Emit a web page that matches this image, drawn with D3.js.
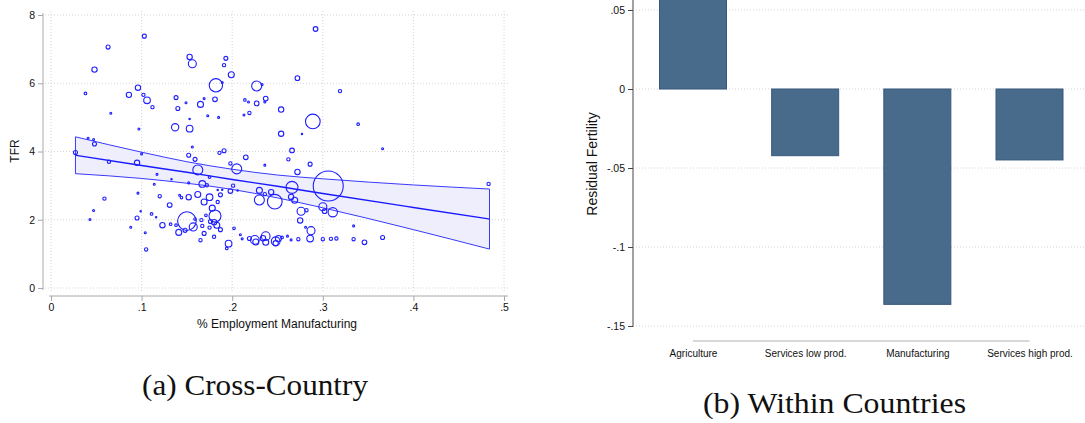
<!DOCTYPE html>
<html><head><meta charset="utf-8">
<script src="https://cdn.jsdelivr.net/npm/d3@7"></script>
<style>body{margin:0;background:#fff}svg{display:block}</style>
</head><body><svg id="chart" width="1085" height="423"></svg>
<script>
// ---------- Panel (a): cross-country scatter ----------
const mfgShare = [0.103,0.063,0.048,0.153,0.156,0.193,0.191,0.199,0.182,0.189,0.227,0.233,0.038,0.096,0.086,0.102,0.106,0.112,0.138,0.149,0.140,0.165,0.169,0.181,0.173,0.185,0.214,0.218,0.227,0.219,0.213,0.066,0.097,0.137,0.153,0.153,0.156,0.041,0.047,0.048,0.027,0.064,0.100,0.095,0.117,0.133,0.152,0.159,0.162,0.186,0.191,0.215,0.198,0.205,0.175,0.152,0.167,0.172,0.201,0.198,0.114,0.096,0.120,0.142,0.144,0.152,0.162,0.175,0.169,0.187,0.184,0.230,0.230,0.059,0.131,0.047,0.099,0.043,0.095,0.111,0.123,0.132,0.138,0.150,0.141,0.148,0.157,0.159,0.167,0.171,0.178,0.181,0.176,0.180,0.183,0.175,0.187,0.169,0.165,0.180,0.196,0.194,0.202,0.209,0.211,0.219,0.225,0.105,0.088,0.104,0.166,0.116,0.226,0.234,0.237,0.237,0.248,0.251,0.255,0.248,0.261,0.265,0.273,0.281,0.287,0.286,0.300,0.309,0.315,0.334,0.334,0.346,0.366,0.292,0.272,0.319,0.237,0.236,0.254,0.289,0.339,0.277,0.254,0.266,0.262,0.286,0.236,0.272,0.306,0.266,0.236,0.243,0.247,0.265,0.269,0.300,0.302,0.311,0.276,0.282,0.275,0.366,0.483,0.184,0.189,0.206];
const tfr = [7.38,7.06,6.40,6.77,6.57,6.73,6.53,6.25,5.94,6.02,5.92,5.96,5.70,5.87,5.66,5.66,5.50,5.30,5.58,5.43,5.26,5.38,5.55,5.53,5.05,5.00,5.51,5.45,5.41,5.13,5.07,5.12,4.66,4.71,4.67,4.95,4.13,4.39,4.35,4.22,3.97,3.70,3.93,3.67,3.33,3.19,3.89,3.77,3.46,3.96,4.02,3.83,3.65,3.49,3.25,3.08,3.05,3.01,3.00,2.84,3.04,2.78,2.69,2.72,2.65,2.66,2.74,2.66,2.52,2.73,2.52,2.86,2.58,2.62,2.43,2.27,2.25,2.01,2.05,2.17,1.84,1.87,1.84,1.96,1.63,1.69,1.79,2.02,1.82,2.13,2.34,2.11,1.95,1.93,1.84,1.77,1.71,1.60,1.40,1.50,1.30,1.16,1.75,1.56,1.44,1.45,1.41,1.13,1.78,1.62,1.99,2.07,1.35,1.46,1.52,1.34,1.37,1.45,1.48,1.31,1.52,1.41,1.43,1.78,1.68,1.45,1.43,1.44,1.45,1.82,1.43,1.34,1.48,7.59,6.15,5.77,5.55,5.45,5.23,4.88,4.80,4.51,4.52,4.03,3.77,3.63,3.60,3.40,2.99,2.95,2.75,2.81,2.53,2.67,2.57,2.38,2.25,2.22,2.25,2.28,1.98,4.08,3.05,2.87,2.88,2.86];
const population = [25,25,44,44,100,25,17,56,276,6,155,6,11,44,44,17,69,17,25,6,25,56,6,34,6,6,11,6,34,17,6,6,6,83,69,3,6,6,6,25,25,17,6,44,6,3,25,25,155,17,25,34,17,155,11,6,69,17,17,34,6,6,17,6,11,44,56,69,56,25,17,56,155,17,34,6,3,6,25,11,44,11,11,540,56,25,100,11,17,11,56,224,25,44,56,17,25,25,17,17,69,11,11,6,6,25,117,17,6,6,17,3,56,44,117,56,117,56,11,44,6,6,17,6,100,69,17,17,17,6,17,34,25,34,34,17,34,6,44,334,11,3,44,34,17,25,6,44,1400,224,17,44,334,44,56,100,34,135,100,17,44,6,17,3,3,3];

// linear fit with 95% CI
const fitX  = [0.027, 0.10, 0.15, 0.20, 0.25, 0.30, 0.40, 0.484];
const fitY  = [3.89, 3.59, 3.39, 3.18, 2.98, 2.77, 2.36, 2.02];
const ciHi  = [4.43, 3.98, 3.70, 3.48, 3.31, 3.20, 3.02, 2.90];
const ciLo  = [3.35, 3.21, 3.07, 2.89, 2.64, 2.35, 1.71, 1.14];

const xTicksA = [0, 0.1, 0.2, 0.3, 0.4, 0.5];
const xTickLabelsA = ["0", ".1", ".2", ".3", ".4", ".5"];
const yTicksA = [0, 2, 4, 6, 8];
const yTickLabelsA = ["0", "2", "4", "6", "8"];

// ---------- Panel (b): within countries bars ----------
const sectors = ["Agriculture", "Services low prod.", "Manufacturing", "Services high prod."];
const residualFertility = [0.07, -0.0422, -0.1363, -0.0449];
const yTicksB = [0.05, 0, -0.05, -0.1, -0.15];
const yTickLabelsB = [".05", "0", "-.05", "-.1", "-.15"];

const svg = d3.select("#chart");
const SANS = "'Liberation Sans', Arial, Helvetica, sans-serif";
const SERIF = "'Liberation Serif', 'Times New Roman', serif";

// ===== Panel A =====
const xA = d3.scaleLinear().domain([0, 0.5]).range([51, 504]);
const yA = d3.scaleLinear().domain([0, 8]).range([288, 15]);
const rA = d3.scaleSqrt().domain([0, 1400]).range([0, 15]);
const gA = svg.append("g");

// grid
gA.append("g").selectAll("line").data(yTicksA).join("line")
  .attr("x1", 45).attr("x2", 510).attr("y1", d => yA(d)).attr("y2", d => yA(d))
  .attr("stroke", "#d4d4d4").attr("stroke-width", 1).attr("stroke-dasharray", "1,2");
gA.append("g").selectAll("line").data(xTicksA).join("line")
  .attr("y1", 11).attr("y2", 292).attr("x1", d => xA(d)).attr("x2", d => xA(d))
  .attr("stroke", "#d4d4d4").attr("stroke-width", 1).attr("stroke-dasharray", "1,2");

// CI band
const bandData = fitX.map((x, i) => ({x, lo: ciLo[i], hi: ciHi[i], f: fitY[i]}));
const area = d3.area().x(d => xA(d.x)).y0(d => yA(d.lo)).y1(d => yA(d.hi)).curve(d3.curveMonotoneX);
gA.append("path").datum(bandData).attr("d", area).attr("fill", "#eeeefc").attr("stroke", "none");
const lineHi = d3.line().x(d => xA(d.x)).y(d => yA(d.hi)).curve(d3.curveMonotoneX);
const lineLo = d3.line().x(d => xA(d.x)).y(d => yA(d.lo)).curve(d3.curveMonotoneX);
const lineF = d3.line().x(d => xA(d.x)).y(d => yA(d.f)).curve(d3.curveMonotoneX);
gA.append("path").datum(bandData).attr("d", lineHi).attr("fill", "none").attr("stroke", "#3a3aff").attr("stroke-width", 1);
gA.append("path").datum(bandData).attr("d", lineLo).attr("fill", "none").attr("stroke", "#3a3aff").attr("stroke-width", 1);
[0, bandData.length - 1].forEach(i => {
  gA.append("line").attr("x1", xA(bandData[i].x)).attr("x2", xA(bandData[i].x))
    .attr("y1", yA(bandData[i].lo)).attr("y2", yA(bandData[i].hi))
    .attr("stroke", "#3a3aff").attr("stroke-width", 1);
});
gA.append("path").datum(bandData).attr("d", lineF).attr("fill", "none").attr("stroke", "#1a1aff").attr("stroke-width", 1.4);

// points
const pts = mfgShare.map((x, i) => ({x, y: tfr[i], p: population[i]}));
gA.append("g").selectAll("circle").data(pts).join("circle")
  .attr("cx", d => xA(d.x)).attr("cy", d => yA(d.y)).attr("r", d => Math.max(0.7, rA(d.p)))
  .attr("fill", "none").attr("stroke", "#1f1fff").attr("stroke-width", 1.1);

// axes
const axY = d3.axisLeft(yA).tickValues(yTicksA).tickFormat((d, i) => yTickLabelsA[i]).tickSize(5).tickSizeOuter(0).tickPadding(3);
const gyA = gA.append("g").attr("transform", "translate(43,0)").call(axY);
const axX = d3.axisBottom(xA).tickValues(xTicksA).tickFormat((d, i) => xTickLabelsA[i]).tickSize(5).tickSizeOuter(0).tickPadding(3);
const gxA = gA.append("g").attr("transform", "translate(0,296)").call(axX);
[gyA, gxA].forEach(g => {
  g.select(".domain").attr("stroke", "#a8a8a8");
  g.selectAll(".tick line").attr("stroke", "#a8a8a8");
  g.selectAll("text").attr("font-family", SANS).attr("font-size", 10.5).attr("fill", "#111");
});
gyA.select(".domain").attr("d", "M0,13V290");
gxA.select(".domain").attr("d", "M49,0H508");

gA.append("text").attr("x", 277).attr("y", 328).attr("text-anchor", "middle")
  .attr("font-family", SANS).attr("font-size", 12).attr("fill", "#111").text("% Employment Manufacturing");
gA.append("text").attr("transform", "translate(19,151) rotate(-90)").attr("text-anchor", "middle")
  .attr("font-family", SANS).attr("font-size", 12).attr("fill", "#111").text("TFR");

gA.append("text").attr("x", 255).attr("y", 395).attr("text-anchor", "middle")
  .attr("font-family", SERIF).attr("font-size", 30).attr("fill", "#111")
  .attr("textLength", 226).attr("lengthAdjust", "spacingAndGlyphs").text("(a) Cross-Country");

// ===== Panel B =====
const yB = d3.scaleLinear().domain([-0.15, 0.05]).range([326, 10]);
const xB = d3.scalePoint().domain(sectors).range([693, 1029.5]);
const barW = 67;
const gB = svg.append("g");

gB.append("g").selectAll("line").data(yTicksB).join("line")
  .attr("x1", 636).attr("x2", 1085).attr("y1", d => yB(d)).attr("y2", d => yB(d))
  .attr("stroke", "#d4d4d4").attr("stroke-width", 1).attr("stroke-dasharray", "1,2");

const bars = sectors.map((s, i) => ({s, v: residualFertility[i]}));
gB.append("g").selectAll("rect").data(bars).join("rect")
  .attr("x", d => xB(d.s) - barW / 2).attr("width", barW)
  .attr("y", d => yB(Math.max(0, d.v))).attr("height", d => Math.abs(yB(d.v) - yB(0)))
  .attr("fill", "#486a8b").attr("stroke", "#36597c").attr("stroke-width", 1);

const axYB = d3.axisLeft(yB).tickValues(yTicksB).tickFormat((d, i) => yTickLabelsB[i]).tickSize(5).tickSizeOuter(0).tickPadding(3);
const gyB = gB.append("g").attr("transform", "translate(633,0)").call(axYB);
gyB.select(".domain").attr("stroke", "#444").attr("d", "M0,0V327");
gyB.selectAll(".tick line").attr("stroke", "#444");
gyB.selectAll("text").attr("font-family", SANS).attr("font-size", 10.5).attr("fill", "#111");

const axXB = d3.axisBottom(xB).tickSize(0).tickPadding(9);
const gxB = gB.append("g").attr("transform", "translate(0,341)").call(axXB);
gxB.select(".domain").attr("stroke", "#b0b0b0").attr("d", `M${xB(sectors[0])},0H${xB(sectors[sectors.length-1])}`);
gxB.selectAll("text").attr("font-family", SANS).attr("font-size", 10).attr("fill", "#111");

gB.append("text").attr("transform", "translate(597,164) rotate(-90)").attr("text-anchor", "middle")
  .attr("font-family", SANS).attr("font-size", 14).attr("fill", "#111").text("Residual Fertility");

gB.append("text").attr("x", 834.5).attr("y", 413).attr("text-anchor", "middle")
  .attr("font-family", SERIF).attr("font-size", 30).attr("fill", "#111")
  .attr("textLength", 263).attr("lengthAdjust", "spacingAndGlyphs").text("(b) Within Countries");
</script></body></html>
